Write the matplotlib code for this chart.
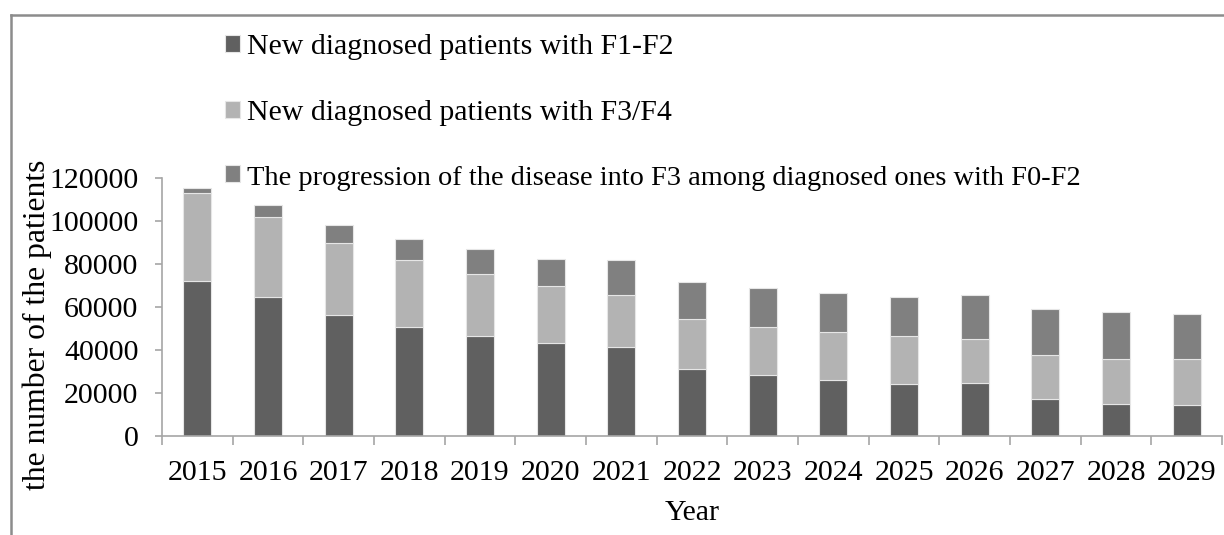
import matplotlib
matplotlib.use("Agg")
import matplotlib.pyplot as plt
from matplotlib.lines import Line2D
import numpy as np

plt.rcParams['font.family'] = ['Liberation Serif', 'DejaVu Serif']

years = ['2015', '2016', '2017', '2018', '2019', '2020', '2021', '2022',
         '2023', '2024', '2025', '2026', '2027', '2028', '2029']
f1_f2 = [71900, 64750, 56400, 50900, 46700, 43200, 41300, 31200,
         28300, 25900, 24100, 24700, 17400, 15100, 14400]
f3_f4 = [41100, 36950, 33500, 31100, 28600, 26800, 24500, 23100,
         22600, 22500, 22600, 20200, 20300, 20800, 21500]
progression = [2400, 5900, 8200, 9500, 11500, 12500, 16200, 17400,
               17900, 18100, 17900, 20900, 21600, 21600, 20900]

labels = ['New diagnosed patients with F1-F2',
          'New diagnosed patients with F3/F4',
          'The progression of the disease into F3 among diagnosed ones with F0-F2']
colors = ['#606060', '#b3b3b3', '#808080']
yticks = [0, 20000, 40000, 60000, 80000, 100000, 120000]

W, H = 1224, 535
FS = 21.5
fig = plt.figure(figsize=(W / 100, H / 100), dpi=100)
ax = fig.add_axes([162 / W, 1 - 436 / H, (1222 - 162) / W, (436 - 178) / H])

x = np.arange(len(years))
bottom = np.zeros(len(years))
handles = []
for vals, col, lab in zip([f1_f2, f3_f4, progression], colors, labels):
    b = ax.bar(x, vals, width=0.4, bottom=bottom, color=col, edgecolor='#e6e6e6',
               linewidth=0.8, label=lab, zorder=2)
    bottom += np.array(vals)
    handles.append(b)

ax.set_xlim(-0.5, len(years) - 0.5)
ax.set_ylim(0, 120000)
ax.set_yticks(yticks)
ax.set_yticklabels([str(v) for v in yticks])
ax.set_xticks(x)
ax.set_xticklabels(years)
ax.set_xticks(np.arange(-0.5, len(years) + 0.5, 1), minor=True)

spine_col = '#a6a6a6'
for s in ['top', 'right']:
    ax.spines[s].set_visible(False)
for s in ['left', 'bottom']:
    ax.spines[s].set_color(spine_col)
    ax.spines[s].set_linewidth(1.2)

ax.tick_params(axis='x', which='major', length=0, pad=17, labelsize=FS)
ax.tick_params(axis='x', which='minor', length=6.5, width=1.2, color=spine_col, direction='out')
ax.tick_params(axis='y', which='major', length=5, width=1.2, color=spine_col,
               pad=12, labelsize=FS, direction='out')

ax.set_xlabel('Year', fontsize=FS)
ax.xaxis.set_label_coords(0.5, -0.3)
ax.xaxis.label.set_verticalalignment('center')
ax.set_ylabel('the number of the patients', fontsize=22.8)
ax.yaxis.set_label_coords((52 - 162) / (1222 - 162), (436 - 325) / (436 - 178))

leg = fig.legend(handles=handles, labels=labels, loc='upper left',
                 bbox_to_anchor=(225 / W, 1 - 34 / H), frameon=False,
                 fontsize=FS, handlelength=0.5, handleheight=0.5,
                 handletextpad=0.22, labelspacing=1.33, borderpad=0, borderaxespad=0)
leg.get_texts()[2].set_fontsize(20.4)

border_col = '#8c8c8c'
fig.add_artist(Line2D([11 / W, 1], [1 - 15 / H, 1 - 15 / H], color=border_col,
                      linewidth=1.8, transform=fig.transFigure))
fig.add_artist(Line2D([11 / W, 11 / W], [0, 1 - 15 / H], color=border_col,
                      linewidth=1.8, transform=fig.transFigure))

fig.savefig('out.png', dpi=100)
